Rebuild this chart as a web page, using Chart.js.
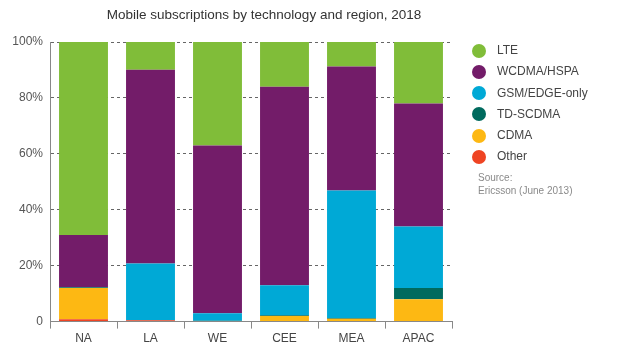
<!DOCTYPE html>
<html>
<head>
<meta charset="utf-8">
<script src="https://cdn.jsdelivr.net/npm/chart.js@4"></script>
<style>
  body { margin: 0; background: #fff; font-family: "Liberation Sans", Arial, sans-serif; }
  #wrap { position: relative; width: 640px; height: 359px; }
  #title { position: absolute; left: 64px; width: 400px; top: 7px; text-align: center; font-size: 13.5px; color: #333; }
  #legend { position: absolute; left: 472px; top: 40px; }
  .item { position: relative; height: 21.3px; line-height: 21.3px; font-size: 12px; color: #444; padding-left: 25px; }
  .dot { position: absolute; left: 0; top: 3.5px; width: 14px; height: 14px; border-radius: 50%; }
  #source { position: absolute; left: 478px; top: 171px; font-size: 10px; color: #8a8a8a; line-height: 13px; }
</style>
</head>
<body>
<div id="wrap">
  <canvas id="chart" width="640" height="359"></canvas>
  <div id="title">Mobile subscriptions by technology and region, 2018</div>
  <div id="legend"></div>
  <div id="source">Source:<br>Ericsson (June 2013)</div>
</div>
<script>
// Regions along the x axis
const regions = ["NA", "LA", "WE", "CEE", "MEA", "APAC"];

// Share of subscriptions (%) per technology, stacked bottom to top
const other   = [0.8, 0.5, 0,    0,    0,    0];
const cdma    = [11.2, 0,  0,    2.0,  1.0,  8.0];
const tdscdma = [0.3, 0,   0.3,  0.3,  0.3,  4.0];
const gsm     = [0,   20.3, 2.7, 10.7, 45.6, 22.0];
const wcdma   = [18.7, 69.3, 60.0, 71.0, 44.3, 44.0];
const lte     = [69.0, 9.9, 37.0, 16.0, 8.8, 22.0];

// Y tick labels
const yTicks = ["0", "20%", "40%", "60%", "80%", "100%"];

const series = [
    { label: "Other", data: other, color: "#ef4423" },
    { label: "CDMA", data: cdma, color: "#fdb813" },
    { label: "TD-SCDMA", data: tdscdma, color: "#006a5e" },
    { label: "GSM/EDGE-only", data: gsm, color: "#00a9d6" },
    { label: "WCDMA/HSPA", data: wcdma, color: "#731c69" },
    { label: "LTE", data: lte, color: "#80bd39" }
];

const ctx = document.getElementById('chart').getContext('2d');
const myChart = new Chart(ctx, {
    type: 'bar',
    data: {
        labels: regions,
        datasets: series.map(s => ({
            label: s.label,
            data: s.data,
            backgroundColor: s.color,
            borderWidth: 0,
            categoryPercentage: 1,
            barPercentage: 0.73
        }))
    },
    options: {
        responsive: false,
        animation: false,
        layout: { padding: { left: 0, right: 188, top: 42, bottom: 10 } },
        plugins: {
            legend: { display: false },
            tooltip: { enabled: false },
            title: { display: false }
        },
        scales: {
            x: {
                stacked: true,
                grid: {
                    display: true,
                    offset: true,
                    drawOnChartArea: false,
                    drawTicks: true,
                    tickLength: 7,
                    color: "#888"
                },
                border: { display: true, color: "#888", width: 1 },
                ticks: {
                    color: "#444",
                    font: { family: "Liberation Sans", size: 12 },
                    padding: 3
                }
            },
            y: {
                stacked: true,
                min: 0,
                max: 100,
                afterFit: function(scale) { scale.width = 50; },
                grid: {
                    color: "#666",
                    drawTicks: false,
                    lineWidth: 1
                },
                border: { display: true, color: "#888", dash: [3, 3] },
                ticks: {
                    stepSize: 20,
                    padding: 7,
                    color: "#555",
                    font: { family: "Liberation Sans", size: 12 },
                    callback: function(value) { return yTicks[value / 20]; }
                }
            }
        }
    }
});

// Build the legend on the right, LTE first
const legend = document.getElementById('legend');
series.slice().reverse().forEach(s => {
    const item = document.createElement('div');
    item.className = 'item';
    item.innerHTML = '<span class="dot" style="background:' + s.color + '"></span>' + s.label;
    legend.appendChild(item);
});
</script>
</body>
</html>
